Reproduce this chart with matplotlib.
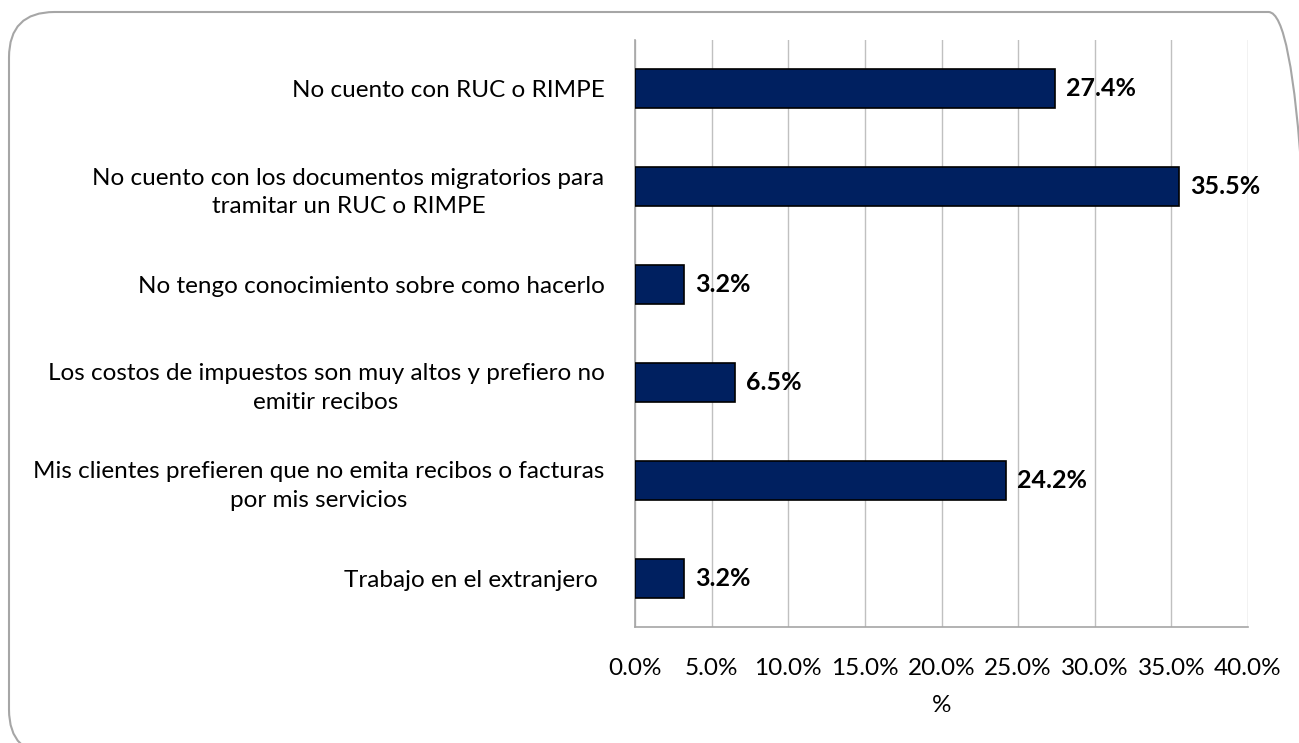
import matplotlib.pyplot as plt
from matplotlib.patches import FancyBboxPatch
from matplotlib.ticker import FuncFormatter

categories = [
    "No cuento con RUC o RIMPE",
    "No cuento con los documentos migratorios para\ntramitar un RUC o RIMPE",
    "No tengo conocimiento sobre como hacerlo",
    "Los costos de impuestos son muy altos y prefiero no\nemitir recibos",
    "Mis clientes prefieren que no emita recibos o facturas\npor mis servicios",
    "Trabajo en el extranjero ",
]
values = [27.4, 35.5, 3.2, 6.5, 24.2, 3.2]
xticks = [0, 5, 10, 15, 20, 25, 30, 35, 40]

plt.rcParams['font.family'] = ['Lato', 'DejaVu Sans']

W, H = 1299, 743
fig = plt.figure(figsize=(W / 100, H / 100), dpi=100)

# rounded frame around the chart (right and bottom edges run off the picture)
frame = FancyBboxPatch((9 / W, -12 / H), 1305 / W, 743 / H,
                       boxstyle="round,pad=0,rounding_size=0.035",
                       transform=fig.transFigure, fill=False,
                       edgecolor='#a6a6a6', linewidth=1.5,
                       mutation_aspect=W / H)
fig.patches.append(frame)

ax = fig.add_axes([635 / W, 1 - 627 / H, (1248 - 635) / W, (627 - 40) / H])
y = list(range(len(categories)))
ax.barh(y, values, height=0.4, color='#002060', edgecolor='black', linewidth=1.2, zorder=3)
ax.set_ylim(len(categories) - 0.5, -0.5)
ax.set_xlim(0, 40)

for yi, v in zip(y, values):
    ax.text(v + 0.75, yi, f"{v:.1f}%", va='center', ha='left',
            fontsize=18, fontweight='bold', color='black')

ax.set_yticks(y)
ax.set_yticklabels(categories, fontsize=17.5, multialignment='center', linespacing=1.45)
ax.set_xticks(xticks)
ax.xaxis.set_major_formatter(FuncFormatter(lambda v, p: f"{v:.1f}%"))
ax.tick_params(axis='x', labelsize=17.5, length=0, pad=22)
ax.tick_params(axis='y', length=0, pad=22)
ax.set_xlabel("%", fontsize=17.5, labelpad=12)

ax.grid(axis='x', color='#c0c0c0', linewidth=1, zorder=0)
for s in ['top', 'right']:
    ax.spines[s].set_visible(False)
for s in ['left', 'bottom']:
    ax.spines[s].set_color('#a6a6a6')
    ax.spines[s].set_linewidth(1.2)

fig.savefig("out.png", dpi=100)
